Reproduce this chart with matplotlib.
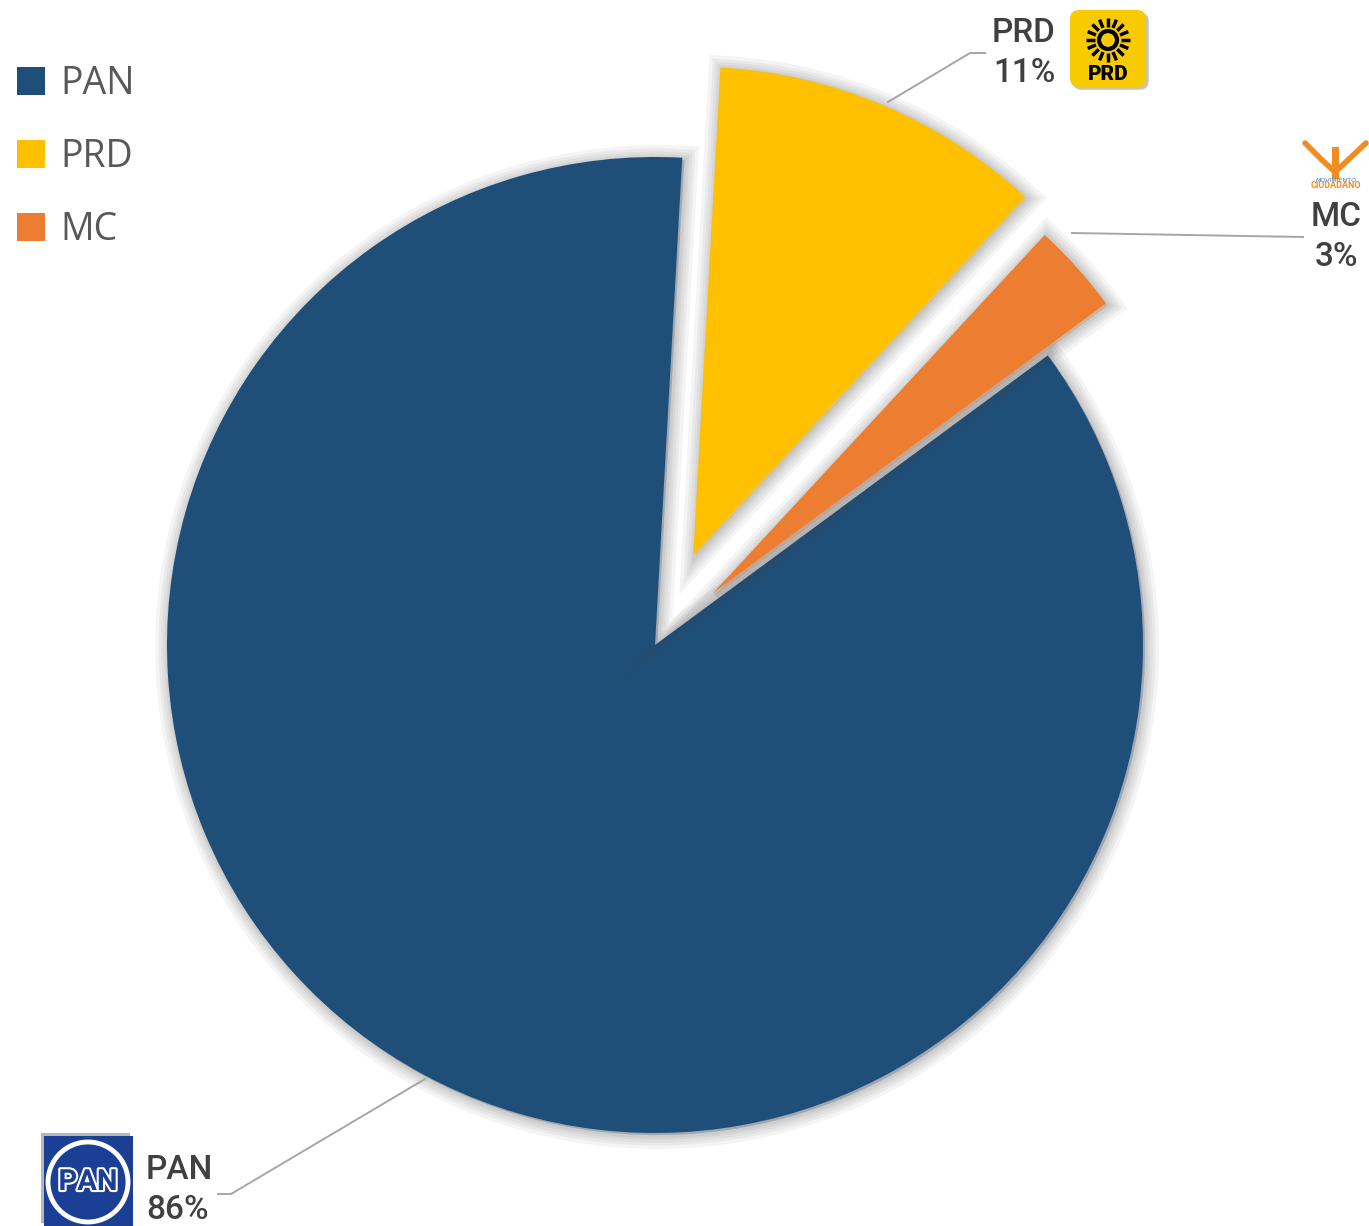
import matplotlib.pyplot as plt
import matplotlib.patheffects as pe
from matplotlib.patches import FancyBboxPatch, Circle, Rectangle
import numpy as np

parties = ['PAN', 'PRD', 'MC']
shares = [86, 11, 3]
colors = ['#1F4E79', '#FFC000', '#ED7D31']

W, H = 1369, 1226
def Y(y):
    return H - y

fig = plt.figure(figsize=(W / 100, H / 100), dpi=100)
ax = fig.add_axes([0, 0, 1, 1])

# pie order going counterclockwise from the top: PAN, MC, PRD
order = [0, 2, 1]
glow = [pe.Stroke(linewidth=lw, foreground='#444444', alpha=0.06, offset=(1.5, -1.5))
        for lw in (20, 15, 11, 7, 4)] + [pe.Normal()]
wedges, _ = ax.pie([shares[i] for i in order], colors=[colors[i] for i in order],
                   startangle=86.8, counterclock=True, center=(655, Y(645)), radius=488,
                   explode=[0, 78, 98],
                   wedgeprops=dict(linewidth=0, path_effects=glow))
ax.set_xlim(0, W)
ax.set_ylim(0, H)
ax.set_aspect('equal')
ax.axis('off')

# legend
for k, p in enumerate(parties):
    yy = 81 + 73 * k
    ax.add_patch(Rectangle((17, Y(yy + 14)), 28, 28, color=colors[k], lw=0))
    ax.text(60, Y(yy + 3), p, fontsize=27, family='Open Sans', color='#595959',
            va='center', ha='left')

# leader lines
lc = '#A6A6A6'
ax.plot([888, 970, 985], [Y(102), Y(53), Y(53)], color=lc, lw=1.4)
ax.plot([1072, 1303], [Y(233), Y(237)], color=lc, lw=1.4)
ax.plot([425, 231, 218], [Y(1079), Y(1194), Y(1194)], color=lc, lw=1.4)

lab = dict(fontsize=24, family='Roboto', fontweight='medium', color='#404040', linespacing=1.3)
ax.text(1024, Y(53), 'PRD\n11%', ha='center', va='center', **lab)
ax.text(1336, Y(237), 'MC\n3%', ha='center', va='center', **lab)
ax.text(146, Y(1190), 'PAN\n86%', ha='left', va='center', **lab)

# PRD logo
ax.add_patch(FancyBboxPatch((1070, Y(87)), 76, 77, boxstyle='round,pad=0,rounding_size=9',
                            fc='#F7CB00', ec='none', zorder=3,
                            path_effects=[pe.SimplePatchShadow(offset=(2, -2), alpha=0.3), pe.Normal()]))
sx, sy = 1108, Y(40)
ax.add_patch(Circle((sx, sy), 9, fc='none', ec='black', lw=3, zorder=4))
for a in np.arange(0, 360, 360 / 16):
    t = np.deg2rad(a)
    ax.plot([sx + 13 * np.cos(t), sx + 22 * np.cos(t)], [sy + 13 * np.sin(t), sy + 22 * np.sin(t)],
            color='black', lw=2.5, zorder=4, solid_capstyle='butt')
ax.text(1108, Y(74), 'PRD', fontsize=15, fontweight='black', family='Roboto',
        ha='center', va='center', color='black', zorder=5)

# PAN logo
ax.add_patch(Rectangle((44, Y(1226)), 89, 90, fc='#1B3F94', ec='none', zorder=3,
                       path_effects=[pe.SimplePatchShadow(offset=(-2, 2), alpha=0.3), pe.Normal()]))
ax.add_patch(Circle((88, Y(1182)), 40, fc='none', ec='white', lw=3.5, zorder=4))
ax.text(88, Y(1182), 'PAN', fontsize=21, fontweight='bold', family='Roboto',
        ha='center', va='center', color='#1B3F94', zorder=5,
        path_effects=[pe.withStroke(linewidth=3, foreground='white')])

# MC logo
ax.plot([1305, 1322, 1335, 1348, 1366], [Y(143), Y(160), Y(172), Y(160), Y(143)],
        color='#F28C1E', lw=4, solid_capstyle='round')
ax.plot([1335, 1335], [Y(150), Y(175)], color='#F28C1E', lw=5)
ax.text(1336, Y(180), 'MOVIMIENTO', fontsize=4.5, color='#3A7CC1', ha='center', va='center',
        family='DejaVu Sans')
ax.text(1336, Y(186), 'CIUDADANO', fontsize=6.5, fontweight='bold', color='#F28C1E',
        ha='center', va='center', family='Roboto')

fig.savefig('out.png', dpi=100)
